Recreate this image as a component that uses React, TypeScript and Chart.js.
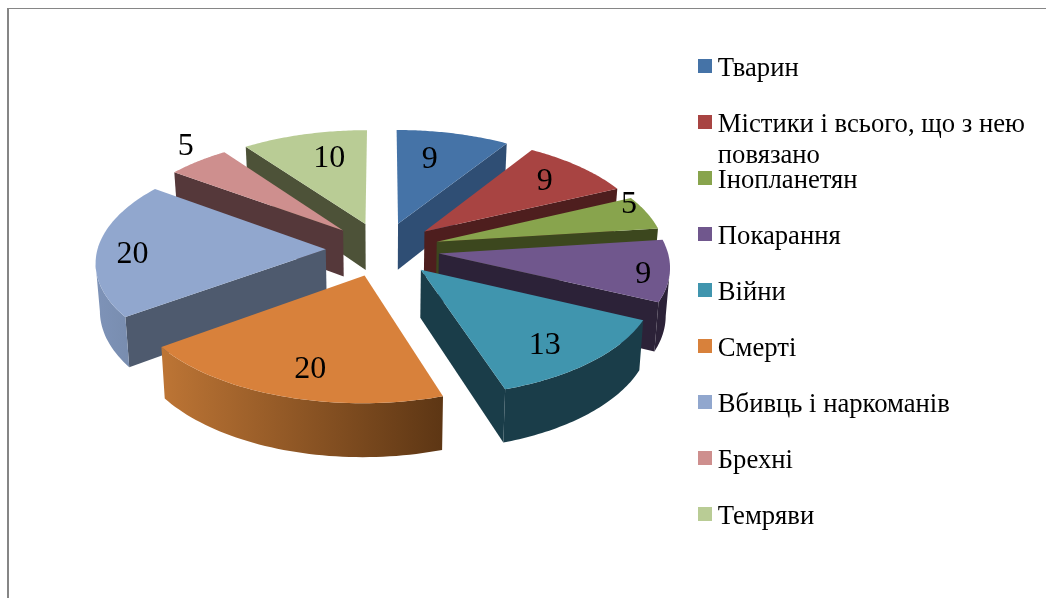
import React, { useEffect, useRef } from "react";
import { Chart, registerables } from "chart.js";

Chart.register(...registerables);

const categories = [
  "Тварин",
  "Містики і всього, що з нею",
  "Інопланетян",
  "Покарання",
  "Війни",
  "Смерті",
  "Вбивць і наркоманів",
  "Брехні",
  "Темряви",
];
const wrappedCategoryIndex = 1;
const wrappedCategoryTail = "повязано";
const values = [9, 9, 5, 9, 13, 20, 20, 5, 10];
const topColors = ["#4573A7", "#A84442", "#88A44D", "#70578D", "#4095AE", "#D8813B", "#91A7CE", "#CE8F8E", "#B9CC95"];
const radialWallColors = ["#2F4E74", "#4E1E1E", "#3C471E", "#2C2238", "#1A3D49", "#6A3D16", "#4E5A6E", "#55383A", "#4D5238"];
const arcWallLeft = ["#2F4E74", "#4E1E1E", "#3C471E", "#2C2238", "#1A3D49", "#BD7535", "#7E93B8", "#55383A", "#4D5238"];
const arcWallRight = ["#2F4E74", "#4E1E1E", "#3C471E", "#2C2238", "#1A3D49", "#5D3614", "#7488A8", "#55383A", "#4D5238"];
// label placement: fraction of the radius along each slice's middle, and an angular nudge (degrees)
const labelRadius = [0.697, 0.76, 0.95, 0.866, 0.77, 0.77, 0.84, 1.19, 0.718];
const labelAngleShift = [-4.2, -1.6, -7.6, 2.2, 3.6, -2, -2, 4, 3];

const TILT = 0.47;
const PERSPECTIVE = 0.00045;
const DEPTH = 47;
const BASE_SHRINK = 0.985;
const X_SCALE = 0.988;
const CENTER_SHIFT_Y = -63;
const LEGEND_FONT = 26.67;
const LEGEND_LINE = 31;
const LEGEND_BOX = 14;
const LEGEND_BOX_RAISE = 3;
const LEGEND_BOX_NUDGE = 1;

type P = { x: number; y: number; k: number };

// legend marker: square sitting slightly above the text's middle line
const legendMarker = (color: string) => {
  const c = document.createElement("canvas");
  c.width = LEGEND_BOX + 2 * LEGEND_BOX_NUDGE;
  c.height = LEGEND_BOX + 2 * LEGEND_BOX_RAISE;
  const g = c.getContext("2d") as CanvasRenderingContext2D;
  g.fillStyle = color;
  g.fillRect(2 * LEGEND_BOX_NUDGE, 0, LEGEND_BOX, LEGEND_BOX);
  return c;
};

const piePlugin = {
  id: "pie3d",
  beforeDraw(chart: any) {
    const { ctx, width, height } = chart;
    ctx.save();
    ctx.fillStyle = "#868686";
    ctx.fillRect(7, 8, width - 7, 1);
    ctx.fillRect(7, 8, 2, height - 8);
    ctx.restore();
  },
  beforeDatasetsDraw(chart: any) {
    const { ctx } = chart;
    const arcs = chart.getDatasetMeta(0).data as any[];
    const project = (cx: number, cy: number, X: number, V: number, sx = X_SCALE): P => {
      const k = 1 / (1 - PERSPECTIVE * V);
      return { x: cx + X * k * sx, y: cy + TILT * V * k, k };
    };
    const order = arcs
      .map((_, i) => i)
      .sort((a, b) => Math.sin((arcs[a].startAngle + arcs[a].endAngle) / 2) - Math.sin((arcs[b].startAngle + arcs[b].endAngle) / 2));

    const slices = arcs.map((arc) => {
      const cx = arc.x;
      const cy = arc.y + CENTER_SHIFT_Y;
      const mid = (arc.startAngle + arc.endAngle) / 2;
      const off = arc.options.offset;
      return { arc, cx, cy, mid, ax: off * Math.cos(mid), av: off * Math.sin(mid), R: arc.outerRadius };
    });

    for (const i of order) {
      const { arc, cx, cy, ax, av, R } = slices[i];
      const N = 48;
      const apex = project(cx, cy, ax, av);
      const rim: P[] = [];
      for (let s = 0; s <= N; s++) {
        const a = arc.startAngle + ((arc.endAngle - arc.startAngle) * s) / N;
        rim.push(project(cx, cy, ax + R * Math.cos(a), av + R * Math.sin(a)));
      }
      const base = (p: P) => ({ x: cx + (p.x - cx) * BASE_SHRINK, y: p.y + DEPTH * p.k });
      const fillPoly = (poly: { x: number; y: number }[], fill: any) => {
        ctx.beginPath();
        poly.forEach((p, s) => (s ? ctx.lineTo(p.x, p.y) : ctx.moveTo(p.x, p.y)));
        ctx.closePath();
        ctx.fillStyle = fill;
        ctx.fill();
      };
      const radialWall = (A: P, B: P) => {
        if (B.x >= A.x - 3) return;
        fillPoly([A, B, base(B), base(A)], radialWallColors[i]);
      };
      radialWall(apex, rim[0]);
      radialWall(rim[N], apex);

      const minX = Math.min(...rim.map((p) => p.x));
      const maxX = Math.max(...rim.map((p) => p.x));
      const grad = ctx.createLinearGradient(minX, 0, maxX, 0);
      grad.addColorStop(0, arcWallLeft[i]);
      grad.addColorStop(1, arcWallRight[i]);
      let run: P[] = [];
      const flush = () => {
        if (run.length > 1) fillPoly([...run, ...run.slice().reverse().map(base)], grad);
        run = [];
      };
      for (let s = 0; s < N; s++) {
        if (rim[s + 1].x < rim[s].x) {
          if (!run.length) run.push(rim[s]);
          run.push(rim[s + 1]);
        } else flush();
      }
      flush();
      fillPoly([apex, ...rim], topColors[i]);
    }

    ctx.save();
    ctx.fillStyle = "#000";
    ctx.font = "32px 'Liberation Serif'";
    ctx.textAlign = "center";
    ctx.textBaseline = "middle";
    slices.forEach((s, i) => {
      const a = s.mid + (labelAngleShift[i] * Math.PI) / 180;
      const r = labelRadius[i] * s.R;
      const p = project(s.cx, s.cy, s.ax + r * Math.cos(a), s.av + r * Math.sin(a), 1);
      ctx.fillText(String(values[i]), p.x + 2, p.y + 2);
    });
    ctx.restore();
    return false;
  },
  afterDraw(chart: any) {
    const box = chart.legend.legendHitBoxes[wrappedCategoryIndex];
    if (!box) return;
    const { ctx } = chart;
    ctx.save();
    ctx.fillStyle = "#000";
    ctx.font = `${LEGEND_FONT}px 'Liberation Serif'`;
    ctx.textAlign = "left";
    ctx.textBaseline = "middle";
    ctx.fillText(wrappedCategoryTail, box.left + 1 + LEGEND_FONT / 2, box.top + box.height / 2 + LEGEND_LINE);
    ctx.restore();
  },
};

export default function App() {
  const ref = useRef<HTMLCanvasElement>(null);
  useEffect(() => {
    const chart = new Chart(ref.current as HTMLCanvasElement, {
      type: "pie",
      data: {
        labels: categories,
        datasets: [{ data: values, backgroundColor: topColors, borderWidth: 0, offset: 57.5 }],
      },
      options: {
        animation: false,
        responsive: false,
        radius: 231,
        layout: { padding: { left: 91, top: 26.3, right: 11, bottom: 0 } },
        plugins: {
          tooltip: { enabled: false },
          legend: {
            position: "right",
            align: "start",
            labels: {
              usePointStyle: true,
              boxWidth: 1,
              boxHeight: 15,
              padding: 29.33,
              color: "#000",
              font: { family: "'Liberation Serif'", size: LEGEND_FONT },
              generateLabels: () =>
                categories.map((text, i) => ({
                  text,
                  fillStyle: topColors[i],
                  strokeStyle: topColors[i],
                  lineWidth: 0,
                  pointStyle: legendMarker(topColors[i]),
                  hidden: false,
                  index: i,
                })) as any,
            },
          },
        },
      } as any,
      plugins: [piePlugin],
    });
    return () => chart.destroy();
  }, []);
  return (
    <div style={{ position: "absolute", left: 0, top: 0, width: 1046, height: 598 }}>
      <canvas ref={ref} width={1046} height={598} style={{ display: "block" }} />
    </div>
  );
}
